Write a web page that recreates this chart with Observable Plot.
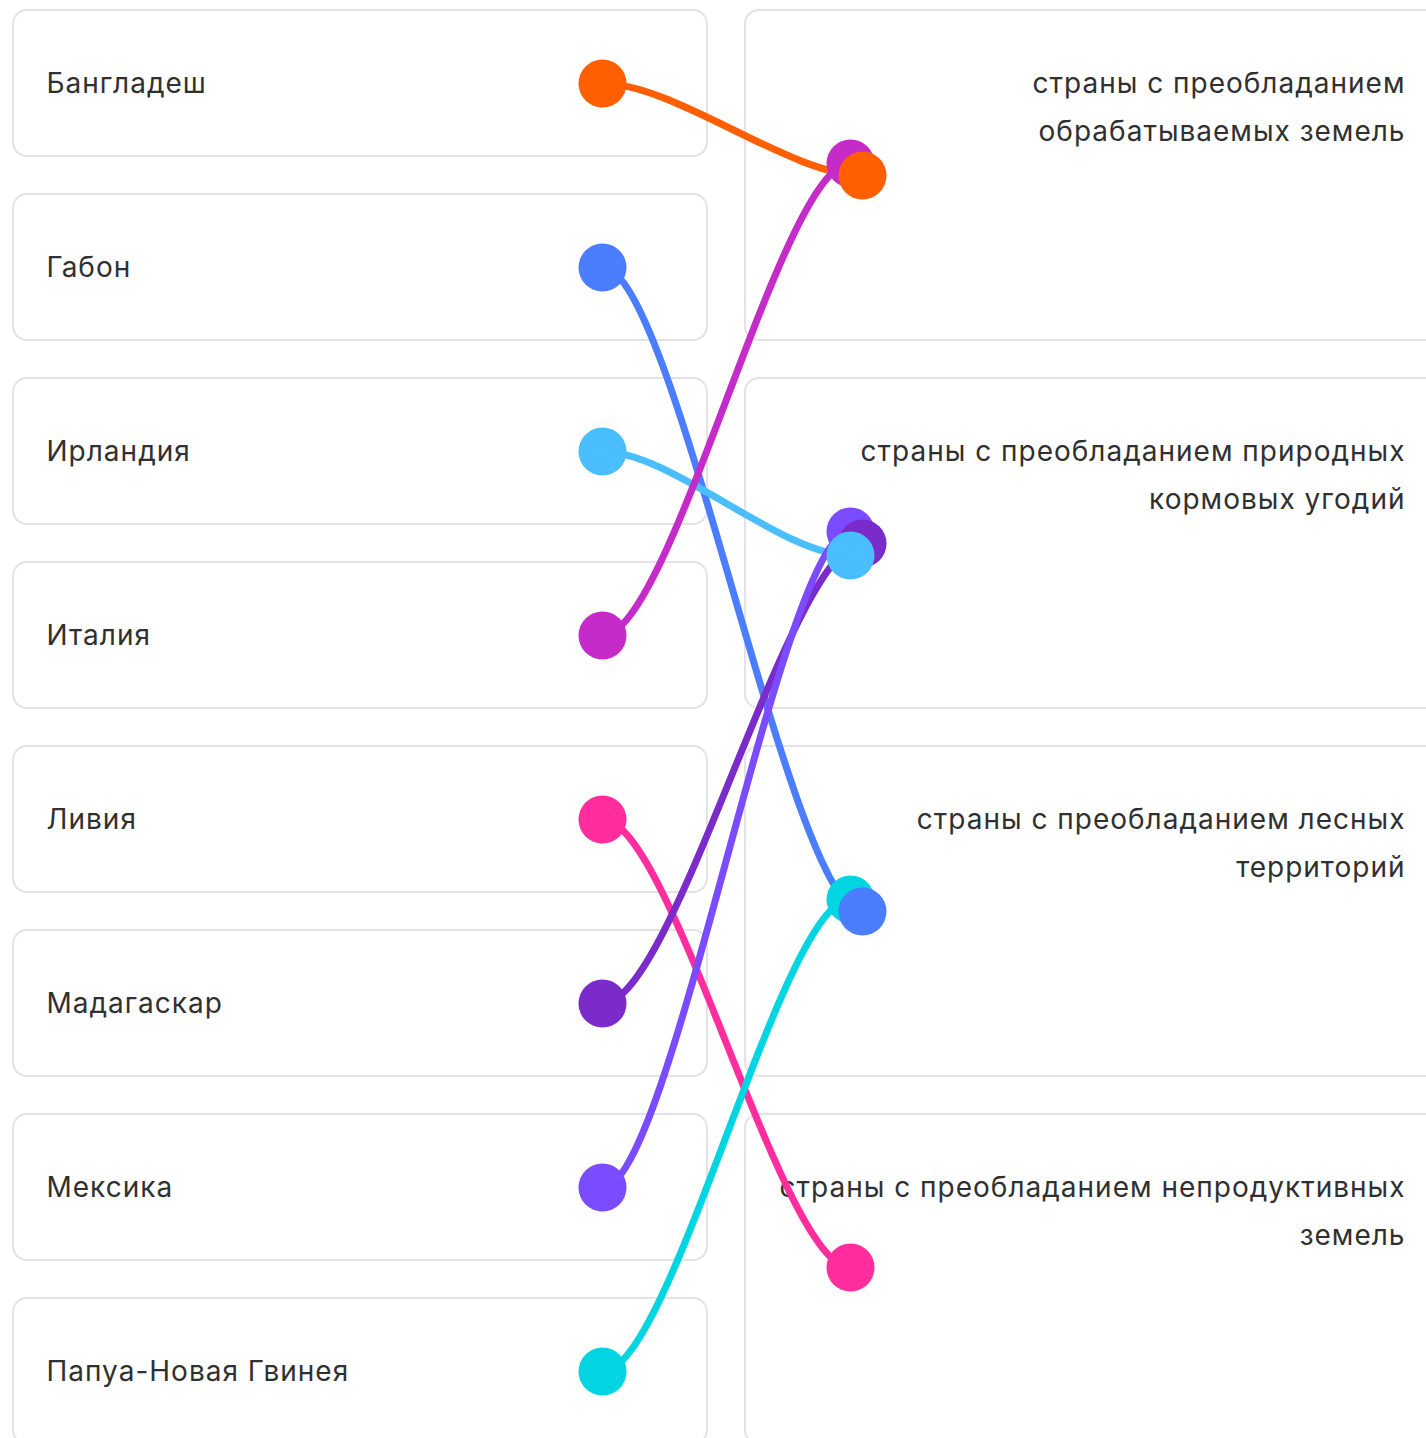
<!DOCTYPE html>
<html><head><meta charset="utf-8">
<script src="https://cdn.jsdelivr.net/npm/d3@7"></script>
<script src="https://cdn.jsdelivr.net/npm/@observablehq/plot@0.6"></script>
<style>
html,body{margin:0;padding:0;background:#fff;}
#chart svg{display:block;}
</style>
</head><body><div id="chart"></div>
<script>
// ---- data ----
const countries = ["Бангладеш", "Габон", "Ирландия", "Италия", "Ливия", "Мадагаскар", "Мексика", "Папуа-Новая Гвинея"];
const categories = [
  "страны с преобладанием\nобрабатываемых земель",
  "страны с преобладанием природных\nкормовых угодий",
  "страны с преобладанием лесных\nтерриторий",
  "страны с преобладанием непродуктивных\nземель"
];
// index into categories for each country
const countryCategory = [0, 2, 1, 0, 3, 1, 1, 2];
const countryColors = ["#ff5f00", "#4a7dff", "#4bbeff", "#c42bc8", "#ff2d9e", "#7a2bc9", "#7b4bff", "#00d5e1"];

// ---- layout ----
const W = 1426, H = 1438;
const rowTop = 10, rowStep = 184, boxH = 146;
const rowCenter = i => rowTop + boxH / 2 + rowStep * i;
const leftBox = {x1: 13, x2: 707}, rightBox = {x1: 745, x2: 1445};
const leftLabelX = 46, leftDotX = 602, rightDotX = 850, rightLabelX = 1405;
const lineGap = 48, dotOffset = 80, slotStep = 12;
const font = "Inter, Roboto, sans-serif";
const textColor = "#303030";

const leftRows = countries.map((name, i) => ({
  name, i, color: countryColors[i], cat: countryCategory[i],
  y: rowCenter(i), top: rowTop + rowStep * i, bottom: rowTop + rowStep * i + boxH
}));
const rightRows = categories.map((label, j) => ({
  label, j,
  top: rowTop + rowStep * 2 * j,
  bottom: rowTop + rowStep * 2 * j + rowStep + boxH,
  y: rowCenter(2 * j)
}));
const rightLines = rightRows.flatMap(r => r.label.split("\n").map((t, k) => ({t, y: r.y + k * lineGap})));

// slots within each category: later countries take earlier slots
const links = [];
rightRows.forEach(r => {
  leftRows.filter(c => c.cat === r.j).sort((a, b) => b.i - a.i).forEach((c, k) => {
    links.push({
      ...c, slot: k,
      x1: leftDotX, y1: c.y,
      x2: rightDotX + (k % 2) * slotStep,
      y2: r.y + dotOffset + k * slotStep
    });
  });
});
const linksByCountry = [...links].sort((a, b) => a.i - b.i);

// S-shaped cubic with horizontal tangents
const K = 0.28;
function sCurve(context) {
  let px, py, n;
  return {
    areaStart() {}, areaEnd() {},
    lineStart() { n = 0; },
    lineEnd() {},
    point(x, y) {
      x = +x; y = +y;
      if (n++ === 0) context.moveTo(x, y);
      else { const c = (x - px) * K; context.bezierCurveTo(px + c, py, x - c, y, x, y); }
      px = x; py = y;
    }
  };
}

const chart = Plot.plot({
  width: W, height: H,
  margin: 0,
  x: {domain: [0, W], range: [0, W], axis: null},
  y: {domain: [0, H], range: [0, H], axis: null},
  style: {background: "#fff", fontFamily: font, letterSpacing: "1px"},
  marks: [
    Plot.rect(leftRows, {x1: () => leftBox.x1, x2: () => leftBox.x2, y1: "top", y2: "bottom",
      fill: "#fff", stroke: "#e2e2e7", strokeWidth: 2, rx: 14}),
    Plot.rect(rightRows, {x1: () => rightBox.x1, x2: () => rightBox.x2, y1: "top", y2: "bottom",
      fill: "#fff", stroke: "#e2e2e7", strokeWidth: 2, rx: 14}),
    Plot.text(leftRows, {x: () => leftLabelX, y: "y", text: "name", textAnchor: "start",
      fontSize: 28, fontWeight: 400, fill: textColor, lineAnchor: "middle", dy: 1}),
    Plot.text(rightLines, {x: () => rightLabelX, y: "y", text: "t", textAnchor: "end",
      fontSize: 28, fontWeight: 400, fill: textColor, lineAnchor: "middle", dy: 1}),
    Plot.link(linksByCountry, {x1: "x1", y1: "y1", x2: "x2", y2: "y2", stroke: d => d.color,
      strokeWidth: 7, curve: sCurve, strokeLinecap: "round"}),
    Plot.dot(linksByCountry, {x: "x1", y: "y1", r: 24, fill: d => d.color, stroke: "none"}),
    Plot.dot(links, {x: "x2", y: "y2", r: 24, fill: d => d.color, stroke: "none"})
  ]
});
document.getElementById("chart").append(chart);
</script>
</body></html>
